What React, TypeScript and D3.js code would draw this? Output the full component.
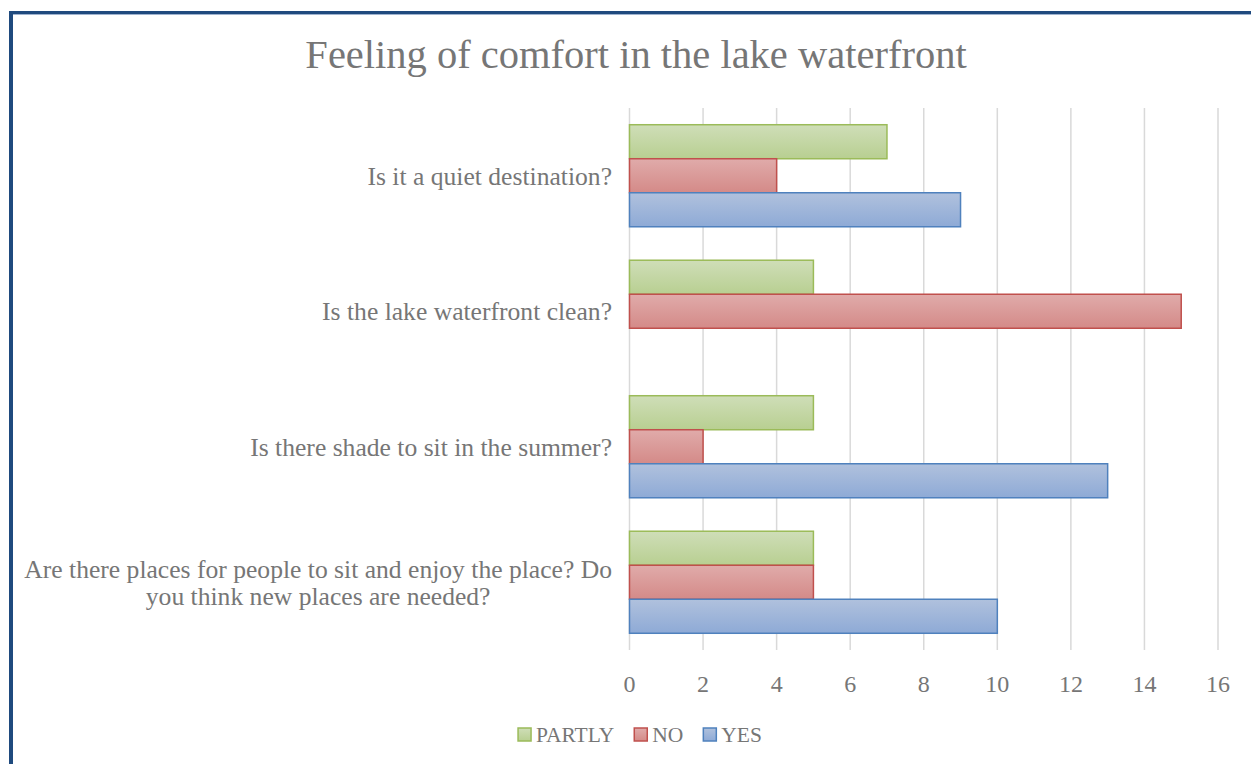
import React, { useRef, useEffect } from 'react';
import * as d3 from 'd3';

const title = 'Feeling of comfort in the lake waterfront';
const categories = [
  'Is it a quiet destination?',
  'Is the lake waterfront clean?',
  'Is there shade to sit in the summer?',
  'Are there places for people to sit and enjoy the place? Do you think new places are needed?'
];
// label lines as Excel wraps them
const labelLines = [
  ['Is it a quiet destination?'],
  ['Is the lake waterfront clean?'],
  ['Is there shade to sit in the summer?'],
  ['Are there places for people to sit and enjoy the place? Do', 'you think new places are needed?']
];
const seriesNames = ['PARTLY', 'NO', 'YES'];
const partly = [7, 5, 5, 5];
const no = [4, 15, 2, 5];
const yes = [9, 0, 13, 10];
const xTicks = [0, 2, 4, 6, 8, 10, 12, 14, 16];

const seriesStyle = {
  PARTLY: { stroke: '#9bbb59', top: '#cfdeb8', bottom: '#b8cf91' },
  NO: { stroke: '#c0504d', top: '#e0abaa', bottom: '#d48a88' },
  YES: { stroke: '#4f81bd', top: '#b0c1dd', bottom: '#8eaad6' }
};

export default function App() {
  const svgRef = useRef<SVGSVGElement>(null);

  useEffect(() => {
    const W = 1251,
      H = 764;
    const font = '"Liberation Serif", "Times New Roman", serif';
    const textColor = '#767676';
    const values: Record<string, number[]> = { PARTLY: partly, NO: no, YES: yes };

    const svg = d3.select(svgRef.current);
    svg.selectAll('*').remove();
    svg.attr('width', W).attr('height', H).style('font-family', font);

    svg.append('rect').attr('width', W).attr('height', H).attr('fill', '#fff');

    // gradients
    const defs = svg.append('defs');
    seriesNames.forEach(s => {
      const st = seriesStyle[s];
      const g = defs
        .append('linearGradient')
        .attr('id', 'grad-' + s)
        .attr('x1', 0)
        .attr('y1', 0)
        .attr('x2', 0)
        .attr('y2', 1);
      g.append('stop').attr('offset', '0%').attr('stop-color', st.top);
      g.append('stop').attr('offset', '100%').attr('stop-color', st.bottom);
    });

    // frame
    svg.append('rect').attr('x', 9).attr('y', 11).attr('width', W).attr('height', 3).attr('fill', '#1f4a7e');
    svg.append('rect').attr('x', 13).attr('y', 14).attr('width', W).attr('height', 1).attr('fill', '#9fb3cf');
    svg.append('rect').attr('x', 9).attr('y', 11).attr('width', 4).attr('height', H).attr('fill', '#1f4a7e');

    const plotLeft = 629.5,
      plotRight = 1218,
      plotTop = 108,
      plotBottom = 650;

    const x = d3.scaleLinear().domain([0, 16]).range([plotLeft, plotRight]);
    const y = d3
      .scaleBand()
      .domain(categories)
      .range([plotTop, plotBottom])
      .paddingInner(0.247)
      .paddingOuter(0.1235);
    const ySub = d3.scaleBand().domain(seriesNames).range([0, y.bandwidth()]);

    // gridlines
    svg
      .append('g')
      .selectAll('line')
      .data(xTicks)
      .enter()
      .append('line')
      .attr('x1', d => x(d))
      .attr('x2', d => x(d))
      .attr('y1', plotTop)
      .attr('y2', plotBottom)
      .attr('stroke', '#d9d9d9')
      .attr('stroke-width', 1.5);

    // bars
    seriesNames.forEach(s => {
      const st = seriesStyle[s];
      svg
        .append('g')
        .selectAll('rect')
        .data(categories.map((c, i) => ({ c, v: values[s][i] })).filter(d => d.v > 0))
        .enter()
        .append('rect')
        .attr('x', x(0))
        .attr('y', d => y(d.c) + ySub(s))
        .attr('width', d => x(d.v) - x(0))
        .attr('height', ySub.bandwidth())
        .attr('fill', 'url(#grad-' + s + ')')
        .attr('stroke', st.stroke)
        .attr('stroke-width', 1.5);
    });

    // x tick labels
    svg
      .append('g')
      .selectAll('text')
      .data(xTicks)
      .enter()
      .append('text')
      .attr('x', d => x(d))
      .attr('y', 692)
      .attr('text-anchor', 'middle')
      .attr('font-size', 24)
      .attr('fill', textColor)
      .text(d => d);

    // category labels
    const labelRight = 612;
    const lineH = 27;
    categories.forEach((c, i) => {
      const lines = labelLines[i];
      const cy = y(c) + y.bandwidth() / 2;
      const firstBase = cy + 9 - ((lines.length - 1) * lineH) / 2;
      const g = svg.append('g');
      const texts = lines.map((ln, j) =>
        g
          .append('text')
          .attr('y', firstBase + j * lineH)
          .attr('font-size', 25.6)
          .attr('fill', textColor)
          .text(ln)
      );
      const widths = texts.map(t => (t.node() as SVGTextElement).getComputedTextLength());
      const maxW = Math.max(...widths);
      const center = labelRight - maxW / 2;
      texts.forEach(t => t.attr('x', center).attr('text-anchor', 'middle'));
    });

    // title
    svg
      .append('text')
      .attr('x', 636)
      .attr('y', 68)
      .attr('text-anchor', 'middle')
      .attr('font-size', 40.5)
      .attr('fill', textColor)
      .text(title);

    // legend
    const legend = svg.append('g');
    const box = 13,
      gap = 5,
      spacing = 20;
    const items = seriesNames.map(s => {
      const it = legend.append('g');
      it.append('rect')
        .attr('width', box)
        .attr('height', box)
        .attr('y', 728)
        .attr('fill', 'url(#grad-' + s + ')')
        .attr('stroke', seriesStyle[s].stroke)
        .attr('stroke-width', 1.5);
      const t = it
        .append('text')
        .attr('x', box + gap)
        .attr('y', 742)
        .attr('font-size', 21.5)
        .attr('fill', textColor)
        .text(s);
      const w = box + gap + (t.node() as SVGTextElement).getComputedTextLength();
      return { it, w };
    });
    const total = d3.sum(items, d => d.w) + spacing * (items.length - 1);
    let cx = 640 - total / 2;
    items.forEach(d => {
      d.it.attr('transform', 'translate(' + cx + ',0)');
      cx += d.w + spacing;
    });
  }, []);

  return <svg ref={svgRef} style={{ position: 'absolute', left: 0, top: 0 }} />;
}
